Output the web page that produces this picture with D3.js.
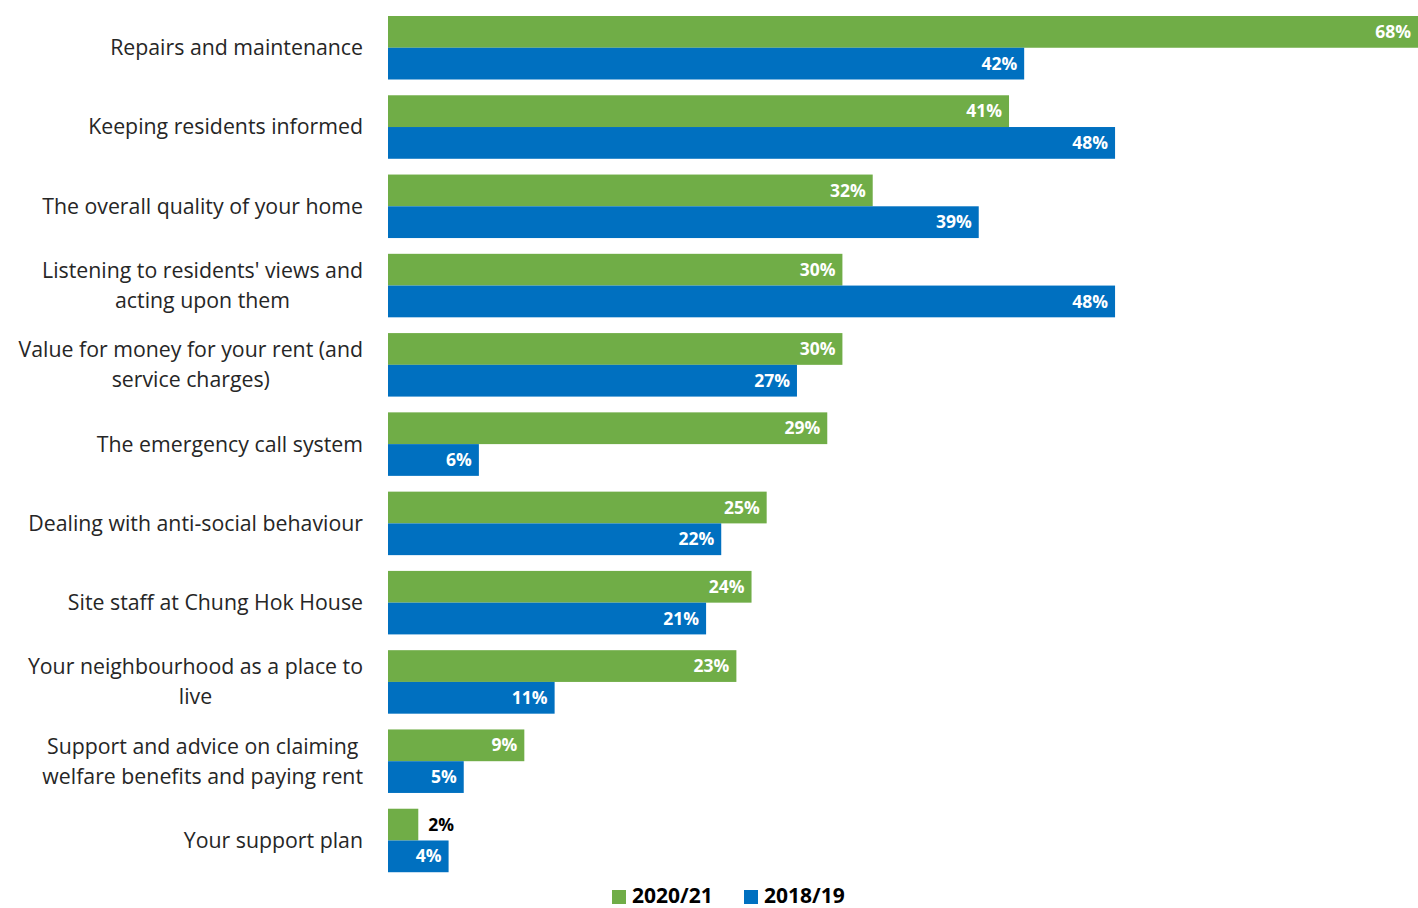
<!DOCTYPE html>
<html><head><meta charset="utf-8">
<script src="https://cdn.jsdelivr.net/npm/d3@7"></script>
<style>body{margin:0;background:#fff}svg{display:block}</style>
</head><body>
<script>
const categories = [
  ["Repairs and maintenance"],
  ["Keeping residents informed"],
  ["The overall quality of your home"],
  ["Listening to residents' views and","acting upon them"],
  ["Value for money for your rent (and","service charges)"],
  ["The emergency call system"],
  ["Dealing with anti-social behaviour"],
  ["Site staff at Chung Hok House"],
  ["Your neighbourhood as a place to","live"],
  ["Support and advice on claiming","welfare benefits and paying rent"],
  ["Your support plan"]
];
const series2021 = [68,41,32,30,30,29,25,24,23,9,2];
const series1819 = [42,48,39,48,27,6,22,21,11,5,4];
const seriesNames = ["2020/21","2018/19"];
const colors = ["#70AD47","#0070C0"];

const W=1418,H=908;
const svg=d3.select("body").append("svg").attr("width",W).attr("height",H);
const font="'Open Sans', sans-serif";
const x=d3.scaleLinear().domain([0,68]).range([388,1418]);
const y0=d3.scaleBand().domain(d3.range(categories.length)).range([8,880]).padding(0);
const sub=d3.scaleBand().domain([0,1]).range([8,71.5]);

const data=[series2021,series1819];
categories.forEach((c,i)=>{
  const g=svg.append("g").attr("transform",`translate(0,${y0(i)})`);
  data.forEach((s,k)=>{
    const v=s[i];
    g.append("rect").attr("x",x(0)).attr("y",sub(k)).attr("width",x(v)-x(0)).attr("height",sub.bandwidth()).attr("fill",colors[k]);
    const inside = (x(v)-x(0))>45;
    g.append("text").attr("x",inside?x(v)-7:x(v)+10).attr("y",sub(k)+sub.bandwidth()/2)
      .attr("dy","0.35em").attr("text-anchor",inside?"end":"start")
      .attr("font-family",font).attr("font-weight","bold").attr("font-size",17.5)
      .attr("fill",inside?"#fff":"#000").text(v+"%");
  });
  const lh=30;
  const t=g.append("g");
  const texts=c.map((line,j)=>t.append("text").attr("font-family",font).attr("font-size",21.3).attr("fill","#262626")
     .attr("y",sub(1)+(j-(c.length-1)/2)*lh).attr("dy","0.35em").text(line));
  const maxw=d3.max(texts,tx=>tx.node().getComputedTextLength());
  const cx=363-maxw/2;
  texts.forEach(tx=>tx.attr("x",cx).attr("text-anchor","middle"));
});

// legend
const leg=svg.append("g");
const legX=[612,744];
seriesNames.forEach((n,k)=>{
  leg.append("rect").attr("x",legX[k]).attr("y",890).attr("width",14).attr("height",14).attr("fill",colors[k]);
  leg.append("text").attr("x",legX[k]+20).attr("y",896).attr("dy","0.35em").attr("font-family",font)
    .attr("font-weight","bold").attr("font-size",21).attr("fill","#000").text(n);
});
</script>
</body></html>
